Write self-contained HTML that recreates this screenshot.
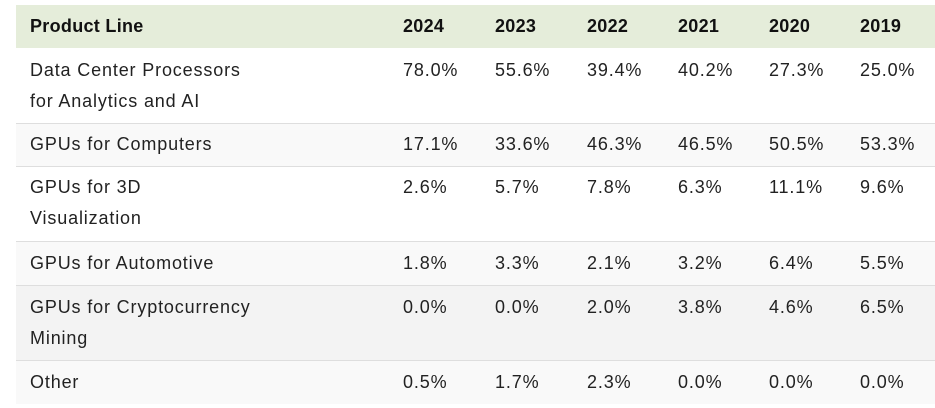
<html><head><style>
body{margin:0;width:935px;height:408px;background:#fff;font-family:"Liberation Sans",sans-serif;color:#222;position:relative;overflow:hidden}
.r{position:absolute;left:16px;width:919px;border-bottom:1px solid #dedede;box-sizing:border-box}
.t{position:absolute;font-size:18px;line-height:31px;white-space:nowrap;letter-spacing:0.85px}
.h{font-weight:bold;color:#111;letter-spacing:0.3px}
</style></head><body>
<div class="r" style="top:5px;height:43px;background:#e5edda;border:none"></div>
<div class="r" style="top:48px;height:76px;background:#fff"></div>
<div class="r" style="top:124px;height:43px;background:#f9f9f9"></div>
<div class="r" style="top:167px;height:75px;background:#fff"></div>
<div class="r" style="top:242px;height:44px;background:#f9f9f9"></div>
<div class="r" style="top:286px;height:75px;background:#f3f3f3"></div>
<div class="r" style="top:361px;height:43px;background:#f9f9f9;border:none"></div>
<div id="c"></div>
<script>
var rows=[[11,["Product Line"],["2024","2023","2022","2021","2020","2019"],1],
[55,["Data Center Processors","for Analytics and AI"],["78.0%","55.6%","39.4%","40.2%","27.3%","25.0%"]],
[129,["GPUs for Computers"],["17.1%","33.6%","46.3%","46.5%","50.5%","53.3%"]],
[172,["GPUs for 3D","Visualization"],["2.6%","5.7%","7.8%","6.3%","11.1%","9.6%"]],
[248,["GPUs for Automotive"],["1.8%","3.3%","2.1%","3.2%","6.4%","5.5%"]],
[292,["GPUs for Cryptocurrency","Mining"],["0.0%","0.0%","2.0%","3.8%","4.6%","6.5%"]],
[367,["Other"],["0.5%","1.7%","2.3%","0.0%","0.0%","0.0%"]]];
var xs=[403,495,587,678,769,860],h="";
rows.forEach(function(r){var cl=r[3]?"t h":"t";
h+='<div class="'+cl+'" style="left:30px;top:'+r[0]+'px">'+r[1].join("<br>")+'</div>';
r[2].forEach(function(v,i){h+='<div class="'+cl+'" style="left:'+xs[i]+'px;top:'+r[0]+'px">'+v+'</div>';});});
document.getElementById("c").innerHTML=h;
</script>
</body></html>
